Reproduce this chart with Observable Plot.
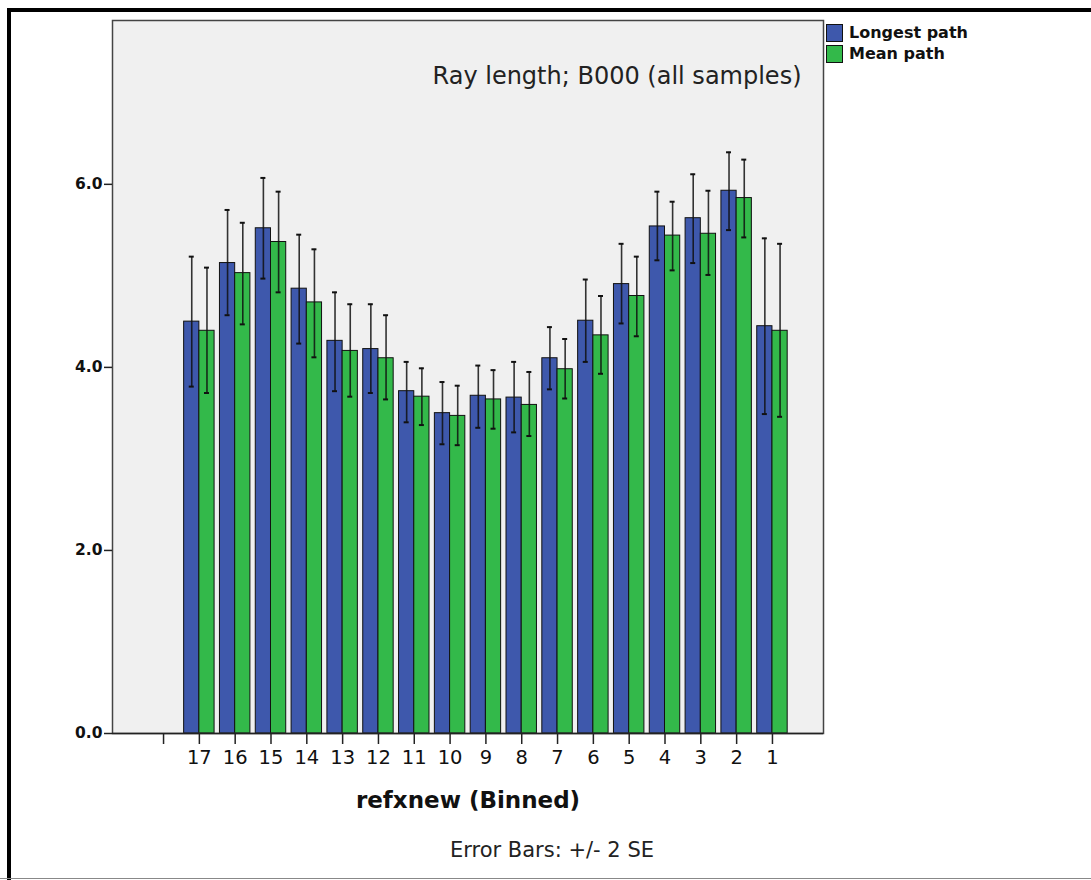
<!DOCTYPE html>
<html>
<head>
<meta charset="utf-8">
<script src="https://cdn.jsdelivr.net/npm/d3@7"></script>
<script src="https://cdn.jsdelivr.net/npm/@observablehq/plot@0.6"></script>
<style>
  html, body { margin: 0; padding: 0; background: #fff; }
  #wrap { position: relative; width: 1091px; height: 880px; overflow: hidden; font-family: "DejaVu Sans", sans-serif; }
  #border { position: absolute; left: 7px; top: 8px; width: 1200px; height: 900px; border-top: 4px solid #000; border-left: 4px solid #000; box-sizing: border-box; }
  #bottomline { position: absolute; left: 0; top: 878px; width: 1091px; height: 0; border-top: 1.5px solid #888; }
  #chart { position: absolute; left: 0; top: 0; }
  #legend { position: absolute; left: 826px; top: 22px; font-weight: bold; font-size: 16px; color: #111; line-height: 21px; }
  #legend .row { display: flex; align-items: center; height: 21px; }
  #legend .sw { width: 17px; height: 18px; border: 1.5px solid #111; box-sizing: border-box; margin-right: 6px; }
  #caption { position: absolute; left: 0; width: 1104px; top: 838px; text-align: center; font-size: 21px; color: #222; }
</style>
</head>
<body>
<div id="wrap">
  <div id="border"></div>
  <div id="chart"></div>
  <div id="legend"></div>
  <div id="caption">Error Bars: +/- 2 SE</div>
  <div id="bottomline"></div>
</div>
<script>
// ---- data ----
const tickLabels = ["", "17", "16", "15", "14", "13", "12", "11", "10", "9", "8", "7", "6", "5", "4", "3", "2", "1"];
const categories = ["17", "16", "15", "14", "13", "12", "11", "10", "9", "8", "7", "6", "5", "4", "3", "2", "1"];
const seriesNames = ["Longest path", "Mean path"];
const seriesColors = ["#3e58ac", "#33b94a"];
const longest   = [4.50, 5.14, 5.52, 4.86, 4.29, 4.20, 3.74, 3.50, 3.69, 3.67, 4.10, 4.51, 4.91, 5.54, 5.63, 5.93, 4.45];
const longestLo = [3.79, 4.57, 4.97, 4.26, 3.74, 3.72, 3.40, 3.16, 3.34, 3.29, 3.76, 4.06, 4.48, 5.17, 5.14, 5.50, 3.49];
const longestHi = [5.21, 5.72, 6.07, 5.45, 4.82, 4.69, 4.06, 3.84, 4.02, 4.06, 4.44, 4.96, 5.35, 5.92, 6.11, 6.35, 5.41];
const meanPath   = [4.40, 5.03, 5.37, 4.71, 4.18, 4.10, 3.68, 3.47, 3.65, 3.59, 3.98, 4.35, 4.78, 5.44, 5.46, 5.85, 4.40];
const meanLo     = [3.72, 4.47, 4.82, 4.11, 3.68, 3.65, 3.37, 3.15, 3.33, 3.25, 3.66, 3.93, 4.34, 5.06, 5.01, 5.42, 3.46];
const meanHi     = [5.09, 5.58, 5.92, 5.29, 4.69, 4.57, 3.99, 3.80, 3.97, 3.95, 4.31, 4.78, 5.21, 5.81, 5.93, 6.27, 5.35];
const yTicks = [0, 2, 4, 6];
const titleText = "Ray length; B000 (all samples)";
const xLabel = "refxnew (Binned)";

const rowsL = categories.map((c, i) => ({cat: c, v: longest[i], lo: longestLo[i], hi: longestHi[i]}));
const rowsM = categories.map((c, i) => ({cat: c, v: meanPath[i], lo: meanLo[i], hi: meanHi[i]}));

// ---- layout ----
const W = 1091, H = 880;
const mL = 112, mR = 268, mT = 20, mB = 147;
const padInner = 0.15, padOuter = 1.0;
const plotW = W - mL - mR;
const step = plotW / (tickLabels.length - padInner + 2 * padOuter);
const bw = step * (1 - padInner);
const half = bw / 2;
const cap = 5;

const chart = Plot.plot({
  width: W, height: H,
  marginLeft: mL, marginRight: mR, marginTop: mT, marginBottom: mB,
  style: {background: "transparent", fontFamily: "DejaVu Sans, sans-serif", color: "#111"},
  x: {type: "band", domain: tickLabels, paddingInner: padInner, paddingOuter: padOuter, align: 0.5, round: false},
  y: {domain: [0, 7.79]},
  marks: [
    Plot.frame({fill: "#f0f0f0"}),
    Plot.barY(rowsL, {x: "cat", y: "v", fill: seriesColors[0], stroke: "#111", strokeWidth: 1, insetRight: half}),
    Plot.barY(rowsM, {x: "cat", y: "v", fill: seriesColors[1], stroke: "#111", strokeWidth: 1, insetLeft: half}),
    Plot.ruleX(rowsL, {x: "cat", y1: "lo", y2: "hi", dx: -bw / 4, stroke: "#111", strokeWidth: 1.6, strokeOpacity: 0.85}),
    Plot.ruleX(rowsM, {x: "cat", y1: "lo", y2: "hi", dx: bw / 4, stroke: "#111", strokeWidth: 1.6, strokeOpacity: 0.85}),
    Plot.tickY(rowsL, {x: "cat", y: "hi", insetLeft: bw / 4 - cap / 2, insetRight: 3 * bw / 4 - cap / 2, stroke: "#111", strokeWidth: 2}),
    Plot.tickY(rowsL, {x: "cat", y: "lo", insetLeft: bw / 4 - cap / 2, insetRight: 3 * bw / 4 - cap / 2, stroke: "#111", strokeWidth: 2}),
    Plot.tickY(rowsM, {x: "cat", y: "hi", insetLeft: 3 * bw / 4 - cap / 2, insetRight: bw / 4 - cap / 2, stroke: "#111", strokeWidth: 2}),
    Plot.tickY(rowsM, {x: "cat", y: "lo", insetLeft: 3 * bw / 4 - cap / 2, insetRight: bw / 4 - cap / 2, stroke: "#111", strokeWidth: 2}),
    Plot.frame({stroke: "#444", strokeWidth: 1.5}),
    Plot.ruleY([0], {stroke: "#222", strokeWidth: 1.5}),
    Plot.axisY({ticks: yTicks, tickFormat: d3.format(".1f"), tickSize: 8, tickPadding: 2, fontSize: 15.5, fontWeight: "bold", label: null, stroke: "#222", strokeWidth: 1.5}),
    Plot.axisX({tickSize: 11, tickPadding: 6, fontSize: 19.5, label: null, stroke: "#222", strokeWidth: 1.5}),
    Plot.text([titleText], {frameAnchor: "top-right", dx: -22, dy: 56, lineAnchor: "middle", textAnchor: "end", fontSize: 24, fill: "#222"}),
    Plot.text([xLabel], {frameAnchor: "bottom", dy: 67, lineAnchor: "middle", fontSize: 23, fontWeight: "bold", fill: "#111"})
  ]
});
document.getElementById("chart").appendChild(chart);

// legend
const legend = document.getElementById("legend");
seriesNames.forEach((name, i) => {
  const row = document.createElement("div");
  row.className = "row";
  const sw = document.createElement("div");
  sw.className = "sw";
  sw.style.background = seriesColors[i];
  const t = document.createElement("span");
  t.textContent = name;
  row.appendChild(sw);
  row.appendChild(t);
  legend.appendChild(row);
});
</script>
</body>
</html>
